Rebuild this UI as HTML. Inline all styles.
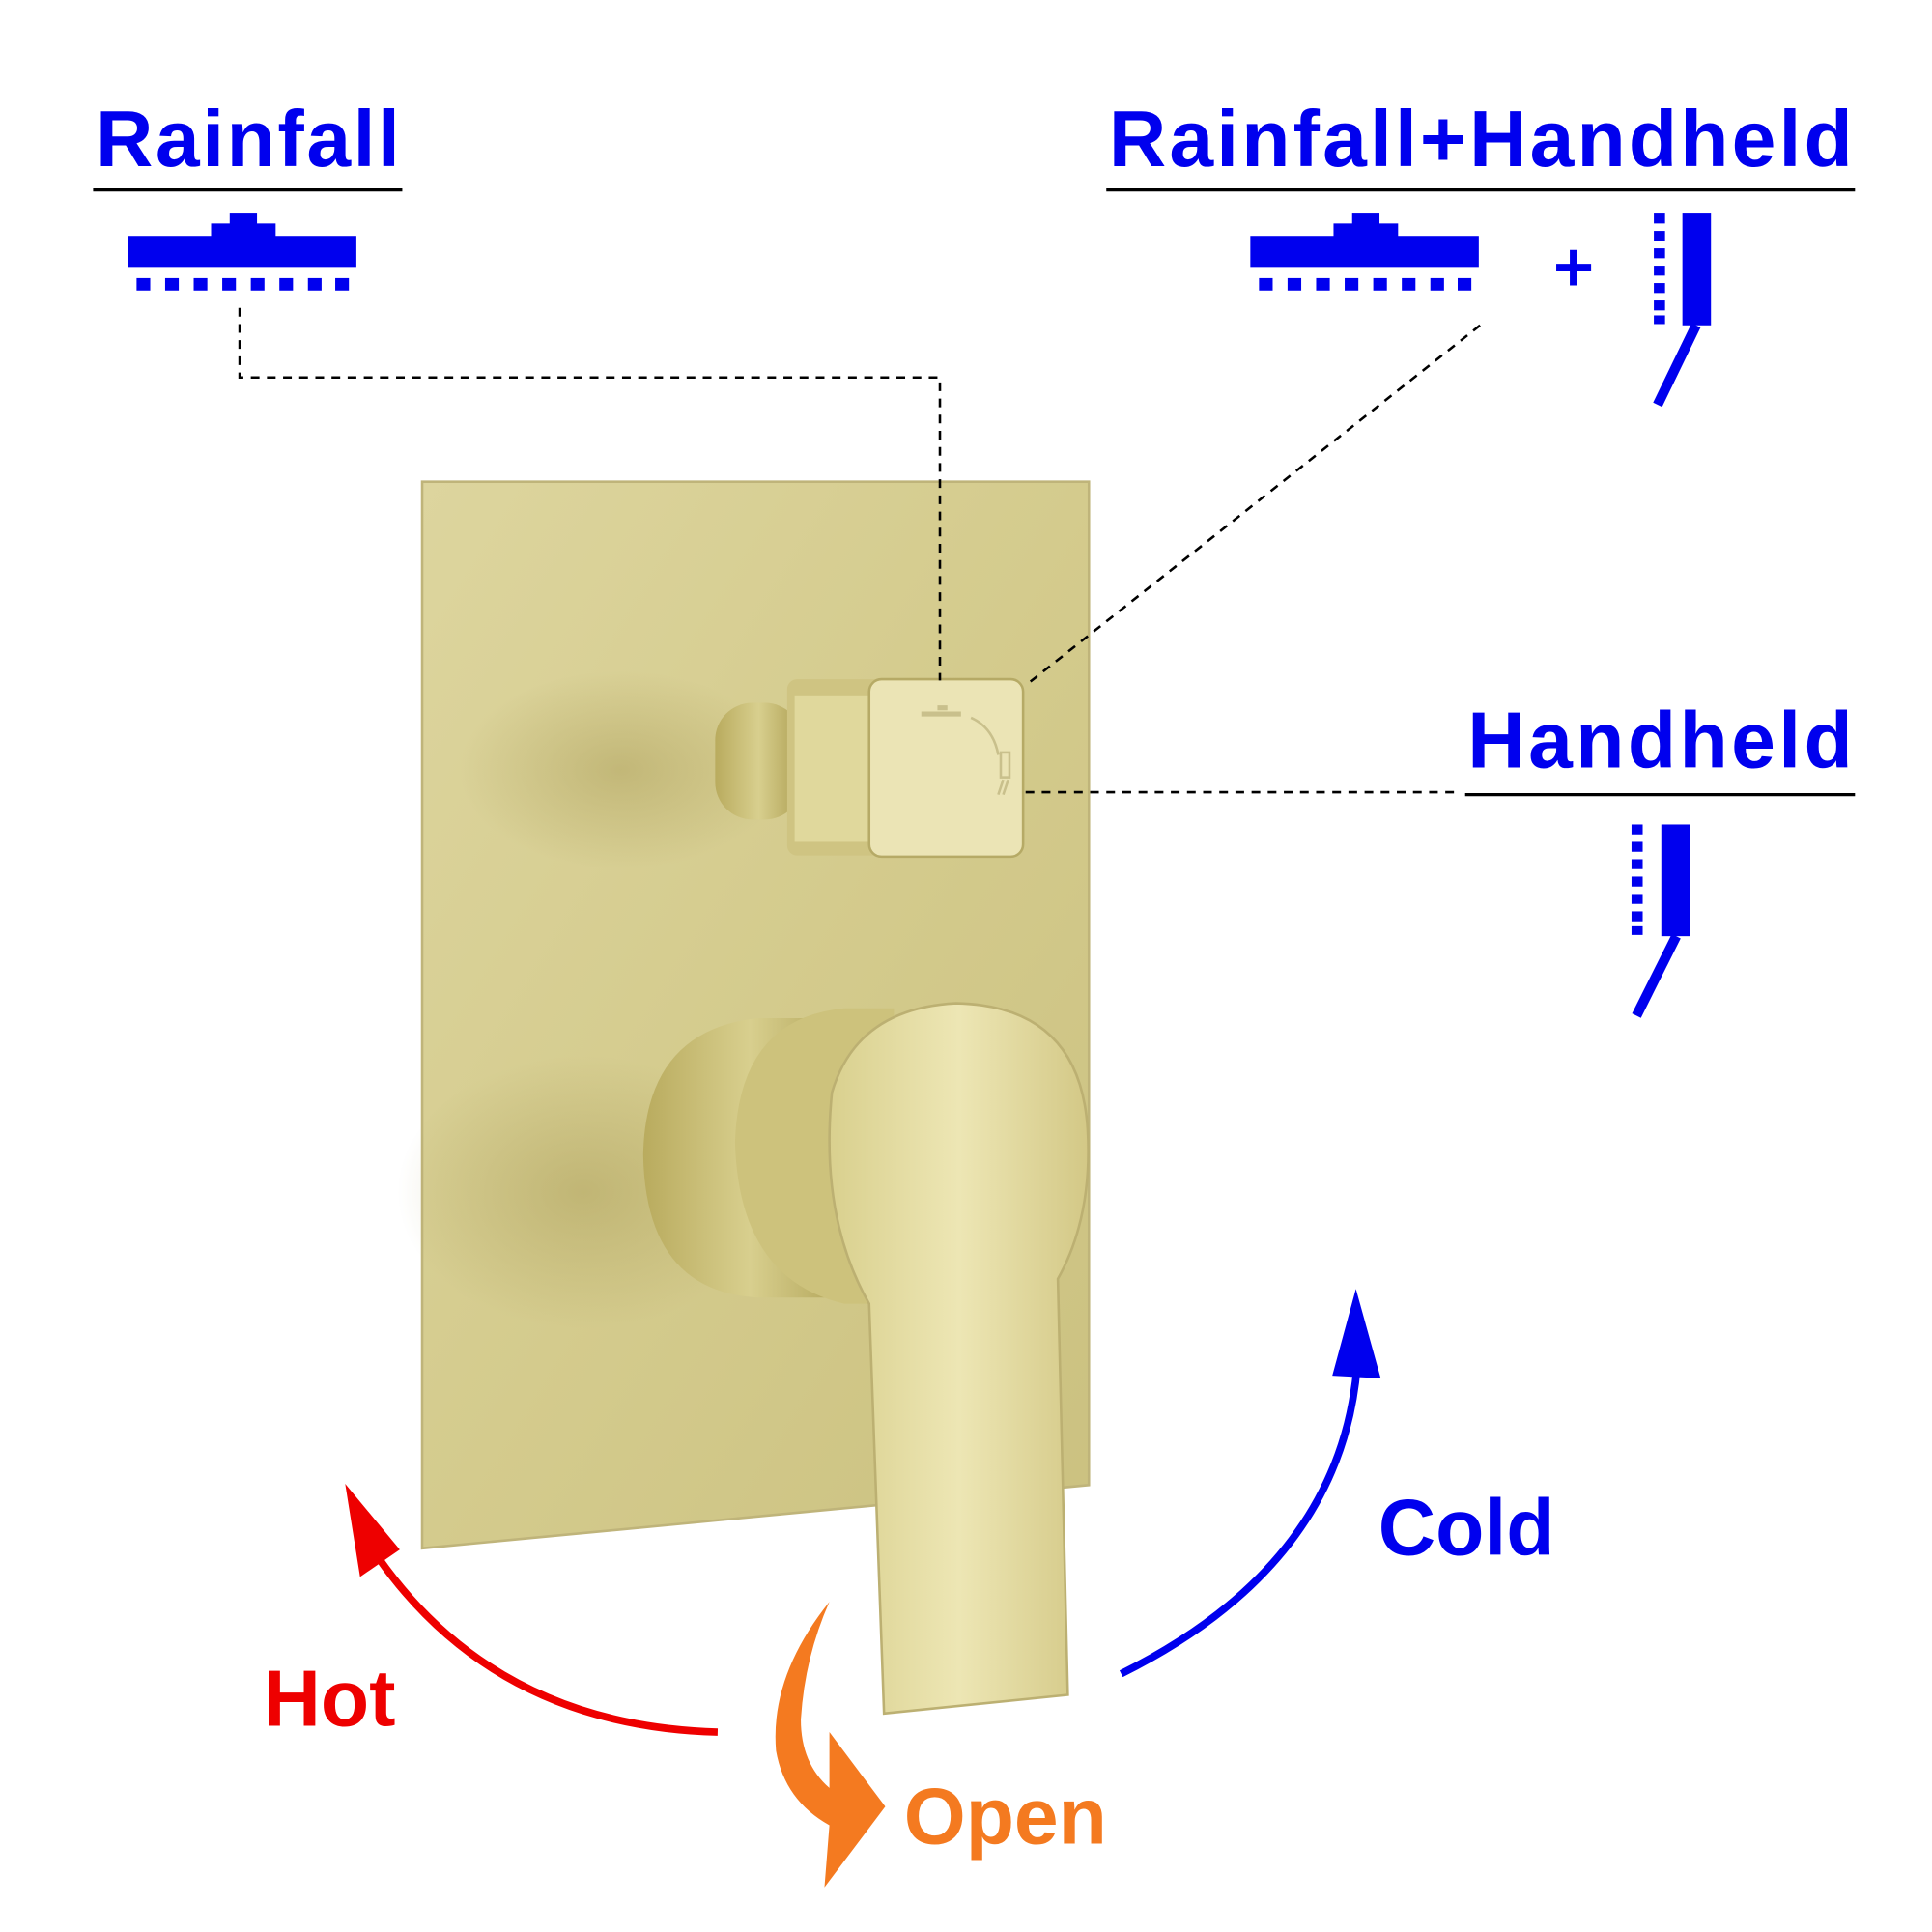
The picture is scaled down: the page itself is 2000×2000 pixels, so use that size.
<!DOCTYPE html>
<html><head><meta charset="utf-8"><style>
html,body{margin:0;padding:0;background:#fff}
svg{display:block}
text{font-family:"Liberation Sans",sans-serif;font-weight:bold}
</style></head><body>
<svg width="2000" height="2000" viewBox="0 0 1556 1556" xmlns="http://www.w3.org/2000/svg">
<defs>
<linearGradient id="plate" x1="0" y1="0" x2="1" y2="1">
<stop offset="0" stop-color="#ddd59e"/><stop offset="0.5" stop-color="#d4cb8d"/><stop offset="1" stop-color="#cbc180"/>
</linearGradient>
<linearGradient id="cyl" x1="0" y1="0" x2="1" y2="0">
<stop offset="0" stop-color="#b9ab5e"/><stop offset="0.5" stop-color="#d8cf8e"/><stop offset="1" stop-color="#ad9f52"/>
</linearGradient>
<linearGradient id="lev" x1="0" y1="0" x2="1" y2="0">
<stop offset="0" stop-color="#d9d08e"/><stop offset="0.5" stop-color="#ede6b4"/><stop offset="1" stop-color="#d3c886"/>
</linearGradient>
<radialGradient id="shadow" cx="0.5" cy="0.5" r="0.5">
<stop offset="0" stop-color="#a89a55" stop-opacity="0.45"/><stop offset="1" stop-color="#a89a55" stop-opacity="0"/>
</radialGradient>
</defs>

<polygon points="340,388 877,388 877,1196 340,1247" fill="url(#plate)" stroke="#bfb47a" stroke-width="2"/>
<ellipse cx="500" cy="620" rx="130" ry="80" fill="url(#shadow)"/>
<ellipse cx="470" cy="960" rx="150" ry="110" fill="url(#shadow)"/>

<!-- diverter -->
<rect x="576" y="566" width="70" height="94" rx="30" fill="url(#cyl)"/>
<rect x="634" y="547" width="80" height="142" rx="8" fill="#cfc482"/>
<rect x="640" y="560" width="62" height="118" fill="#e0d89c"/>
<rect x="700" y="547" width="124" height="143" rx="10" fill="#ebe4b5" stroke="#b6aa66" stroke-width="2"/>
<path d="M742 575 h32 M755 570 h8" stroke="#c9c08c" stroke-width="4"/>
<path d="M782 578 q18 8 22 30" stroke="#c9c08c" stroke-width="2" fill="none"/>
<rect x="806" y="606" width="7" height="20" fill="none" stroke="#c9c08c" stroke-width="2"/>
<path d="M808 628 l-4 12 M812 628 l-4 12" stroke="#c9c08c" stroke-width="2"/>

<!-- lever base -->
<path d="M610 820 Q520 830 518 930 Q520 1040 610 1045 L690 1045 L690 820 Z" fill="url(#cyl)"/>
<path d="M680 812 Q595 820 592 920 Q595 1030 680 1050 L720 1050 L720 812 Z" fill="#cdc27c"/>
<path d="M700 1050 L712 1380 L860 1365 L852 1030 Q880 980 876 910 Q870 810 770 808 Q690 812 670 880 Q660 980 700 1050 Z" fill="url(#lev)" stroke="#bcb072" stroke-width="2"/>

<!-- labels -->
<text x="77" y="134" font-size="64" fill="#0000ee" textLength="245">Rainfall</text>
<line x1="75" y1="153" x2="324" y2="153" stroke="#000" stroke-width="2.5"/>
<text x="893" y="134" font-size="64" fill="#0000ee" textLength="599">Rainfall+Handheld</text>
<line x1="891" y1="153" x2="1494" y2="153" stroke="#000" stroke-width="2.5"/>
<text x="1182" y="618" font-size="64" fill="#0000ee" textLength="310">Handheld</text>
<line x1="1180" y1="640" x2="1494" y2="640" stroke="#000" stroke-width="2.5"/>

<g fill="#0000ee">
<rect x="185" y="172" width="22" height="10"/><rect x="170" y="180" width="52" height="12"/><rect x="103" y="190" width="184" height="25"/>
<g id="dots"><rect x="110" y="224" width="11" height="10"/><rect x="133" y="224" width="11" height="10"/><rect x="156" y="224" width="11" height="10"/><rect x="179" y="224" width="11" height="10"/><rect x="202" y="224" width="11" height="10"/><rect x="225" y="224" width="11" height="10"/><rect x="248" y="224" width="11" height="10"/><rect x="270" y="224" width="11" height="10"/></g>
</g>
<g fill="#0000ee" transform="translate(904,0)">
<rect x="185" y="172" width="22" height="10"/><rect x="170" y="180" width="52" height="12"/><rect x="103" y="190" width="184" height="25"/>
<use href="#dots"/>
</g>
<text x="1251" y="234" font-size="56" fill="#0000ee">+</text>

<g fill="#0000ee">
<rect x="1355" y="172" width="23" height="90"/>
<rect x="1332" y="172" width="9" height="8"/><rect x="1332" y="186" width="9" height="8"/><rect x="1332" y="200" width="9" height="8"/><rect x="1332" y="214" width="9" height="8"/><rect x="1332" y="228" width="9" height="8"/><rect x="1332" y="242" width="9" height="8"/><rect x="1332" y="254" width="9" height="7"/>
</g>
<line x1="1366" y1="262" x2="1335" y2="326" stroke="#0000ee" stroke-width="8"/>
<g fill="#0000ee">
<rect x="1338" y="664" width="23" height="90"/>
<rect x="1314" y="664" width="9" height="8"/><rect x="1314" y="678" width="9" height="8"/><rect x="1314" y="692" width="9" height="8"/><rect x="1314" y="706" width="9" height="8"/><rect x="1314" y="720" width="9" height="8"/><rect x="1314" y="734" width="9" height="8"/><rect x="1314" y="746" width="9" height="7"/>
</g>
<line x1="1350" y1="754" x2="1318" y2="818" stroke="#0000ee" stroke-width="8"/>

<g stroke="#000" stroke-width="2" stroke-dasharray="7,6" fill="none">
<polyline points="193,248 193,304 757,304 757,548"/>
<line x1="1192" y1="262" x2="826" y2="552"/>
<line x1="826" y1="638" x2="1172" y2="638"/>
</g>

<path d="M578 1395 Q400 1390 305 1255" stroke="#ee0000" stroke-width="6" fill="none"/>
<polygon points="278,1195 322,1248 290,1270" fill="#ee0000"/>
<text x="212" y="1390" font-size="64" fill="#ee0000">Hot</text>

<path d="M903 1348 Q1080 1260 1093 1100" stroke="#0000ee" stroke-width="6" fill="none"/>
<polygon points="1092,1038 1112,1110 1073,1108" fill="#0000ee"/>
<text x="1110" y="1252" font-size="64" fill="#0000ee">Cold</text>

<path d="M668 1290 Q620 1350 625 1410 Q632 1450 668 1470 L664 1520 L713 1455 L668 1395 L668 1440 Q645 1420 645 1385 Q648 1335 668 1290 Z" fill="#f47a20"/>
<text x="728" y="1485" font-size="64" fill="#f47a20">Open</text>
</svg>
</body></html>
